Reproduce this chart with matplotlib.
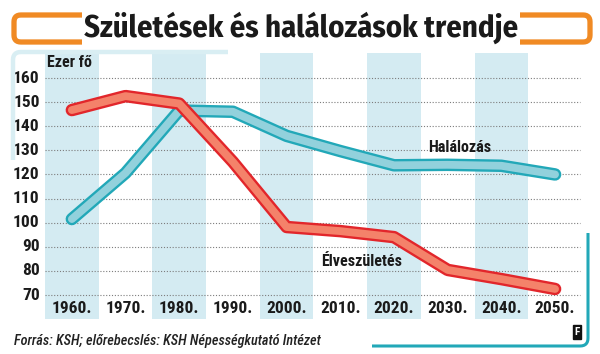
import matplotlib
matplotlib.use("Agg")
import matplotlib.pyplot as plt
import numpy as np

years = [1960, 1970, 1980, 1990, 2000, 2010, 2020, 2030, 2040, 2050]
year_labels = ["1960.", "1970.", "1980.", "1990.", "2000.", "2010.", "2020.", "2030.", "2040.", "2050."]
births = [146.7, 152.5, 149.4, 125.2, 98.2, 96.5, 94.0, 80.4, 76.6, 72.5]
deaths = [101.5, 120.6, 146.5, 146.0, 136.0, 129.7, 123.8, 124.0, 123.6, 120.0]
yticks = [70, 80, 90, 100, 110, 120, 130, 140, 150, 160]

W, H = 600, 354
COND = ["Roboto Condensed", "DejaVu Sans"]
TITLE = ["Fira Sans Condensed", "DejaVu Sans"]

fig = plt.figure(figsize=(W / 100, H / 100), dpi=100)
fig.patch.set_facecolor("white")


def fx(x, y):
    # pixel coords (top-left origin) -> figure fraction
    return x / W, 1 - y / H


def rounded(points, r, n=8):
    # polyline with rounded corners, in pixel coords
    pts = [np.array(p, float) for p in points]
    out = [pts[0]]
    for i in range(1, len(pts) - 1):
        a, b, c = pts[i - 1], pts[i], pts[i + 1]
        u = (a - b) / np.linalg.norm(a - b)
        v = (c - b) / np.linalg.norm(c - b)
        p0, p1 = b + u * r, b + v * r
        for t in np.linspace(0, 1, n):
            out.append((1 - t) ** 2 * p0 + 2 * (1 - t) * t * b + t ** 2 * p1)
    out.append(pts[-1])
    return [p[0] / W for p in out], [1 - p[1] / H for p in out]


def frame(points, color, lw, r=6):
    xs, ys = rounded(points, r)
    fig.add_artist(plt.Line2D(xs, ys, transform=fig.transFigure, color=color,
                              lw=lw, solid_capstyle="butt", solid_joinstyle="round"))


# decorations
frame([(228, 52), (13, 52), (13, 160)], "#d9eef3", 3.2, r=8)
frame([(372, 346), (588, 346), (588, 233)], "#22a8b8", 2.2, r=8)
frame([(82, 15), (14, 15), (14, 42), (82, 42)], "#f08a24", 3.8, r=7)
frame([(520, 15), (590, 15), (590, 42), (520, 42)], "#f08a24", 3.8, r=7)

fig.text(*fx(301, 37), "Születések és halálozások trendje", ha="center", va="baseline",
         fontsize=22, fontweight="bold", color="#1a1a1a", family=TITLE)

# main axes
ax = fig.add_axes([45 / W, 1 - 319 / H, 545 / W, 266 / H])
ax.set_xlim(1955, 2056.5)
ax.set_ylim(60.05, 170.37)
for s in ax.spines.values():
    s.set_visible(False)
ax.set_xticks([])
ax.set_yticks([])

for i, yr in enumerate(years):
    if i % 2 == 0:
        ax.axvspan(yr - 5, yr + 5, color="#d4ebf2", lw=0, zorder=0)

for v in yticks:
    ax.plot([1955, 2054.7], [v, v], color="#7d7d7d", lw=0.8,
            linestyle=(0, (1, 1.6)), zorder=1)
    ax.text(1954, v, str(v), ha="right", va="center", fontsize=12.5,
            fontweight="bold", color="#1a1a1a", family=COND, clip_on=False)

for yr, lab in zip(years, year_labels):
    ax.text(yr, 64.2, lab, ha="center", va="center", fontsize=12.5,
            fontweight="bold", color="#1a1a1a", family=COND)

# deaths (teal) then births (red)
ax.plot(years, deaths, color="#22a8b8", lw=9, solid_capstyle="round",
        solid_joinstyle="round", zorder=3)
ax.plot(years, deaths, color="#92d1dc", lw=5.6, solid_capstyle="round",
        solid_joinstyle="round", zorder=3)
ax.plot(years, births, color="#e2262b", lw=9, solid_capstyle="round",
        solid_joinstyle="round", zorder=4)
ax.plot(years, births, color="#f4826a", lw=5.6, solid_capstyle="round",
        solid_joinstyle="round", zorder=4)

ax.text(2032.3, 131, "Halálozás", ha="center", va="center", fontsize=11.5,
        fontweight="bold", color="#1a1a1a", family=COND, zorder=5)
ax.text(2014, 83.7, "Élveszületés", ha="center", va="center", fontsize=11.5,
        fontweight="bold", color="#1a1a1a", family=COND, zorder=5)
ax.text(1955.4, 166.6, "Ezer fő", ha="left", va="center", fontsize=11.5,
        fontweight="bold", color="#1a1a1a", family=COND, zorder=5)

fig.text(*fx(14, 341), "Forrás: KSH; előrebecslés: KSH Népességkutató Intézet",
         ha="left", va="center", fontsize=10.3, style="italic", fontweight="medium",
         color="#222222", family=COND)

# small publisher mark
fig.text(*fx(577, 332), "F", ha="center", va="center", fontsize=8, fontweight="bold",
         color="white", family=COND,
         bbox=dict(boxstyle="square,pad=0.15", fc="#111111", ec="#111111"))

fig.savefig("out.png", dpi=100)
